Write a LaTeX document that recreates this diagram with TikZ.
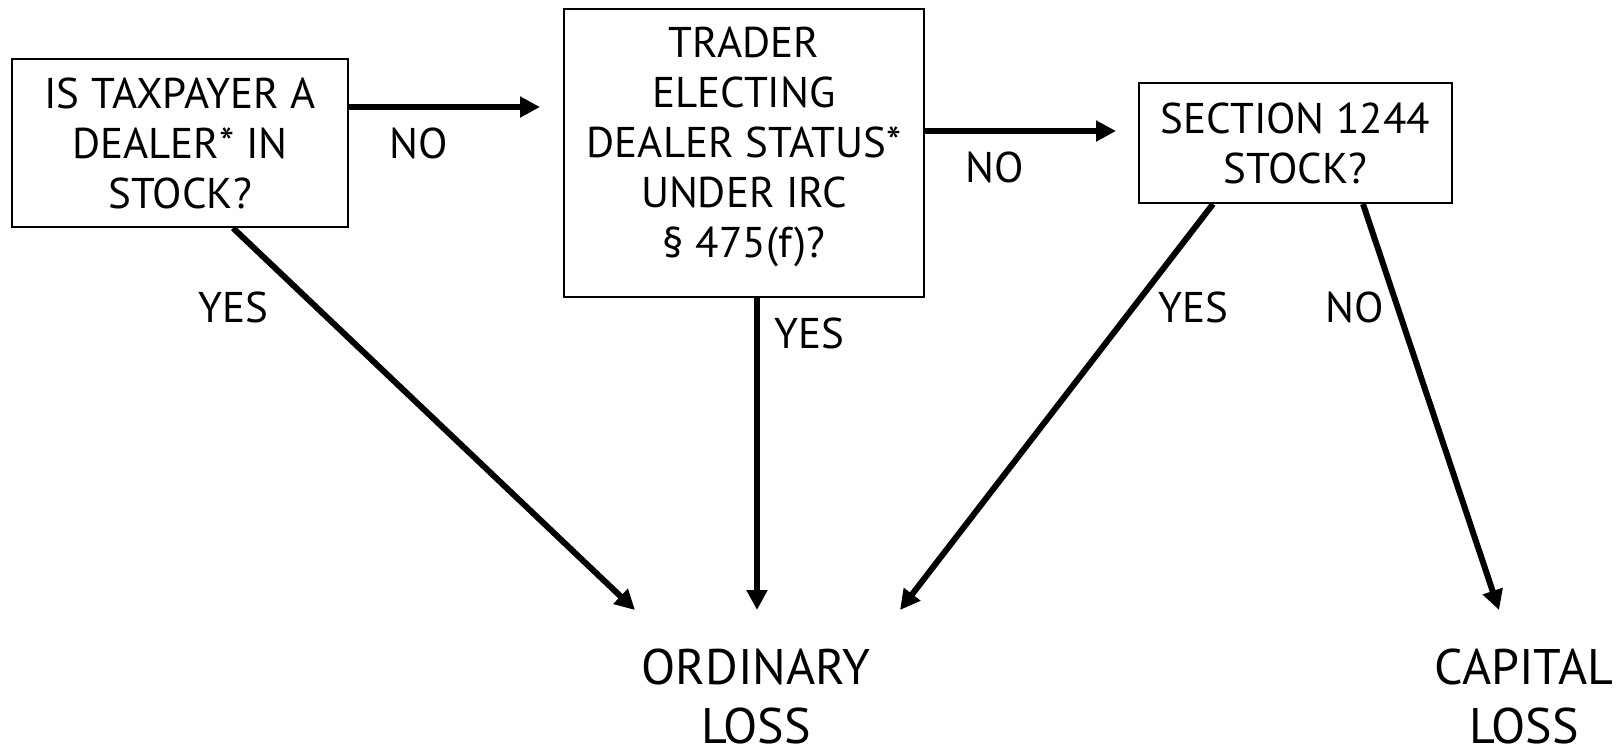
\documentclass[tikz,border=0pt]{standalone}
\usepackage{fontspec}
\setmainfont{PT Sans}
\usetikzlibrary{arrows.meta}
\tikzset{
  qbox/.style={draw=black, line width=1pt, rectangle, inner sep=0pt, align=center,
    font=\fontsize{21.5}{25}\selectfont},
  lbl/.style={anchor=base, inner sep=0pt, font=\fontsize{21.5}{25}\selectfont},
  result/.style={inner sep=0pt, align=center, font=\fontsize{25}{29.5}\selectfont},
  flow/.style={line width=3pt, -{Triangle[length=10pt,width=10pt]}},
}
\begin{document}
\begin{tikzpicture}[x=0.5pt,y=-0.5pt]
\useasboundingbox (0,0) rectangle (1621,752);
\fill[white] (0,0) rectangle (1621,752);
% decision boxes
\node[qbox, minimum width=168pt, minimum height=84pt] (dealer) at (180,143)
  {IS TAXPAYER A\\DEALER* IN\\STOCK?};
\node[qbox, minimum width=180pt, minimum height=144pt] (trader) at (744,153)
  {TRADER\\ELECTING\\DEALER STATUS*\\UNDER IRC\\§ 475(f)?\rule[-11pt]{0pt}{11pt}};
\node[qbox, minimum width=156.5pt, minimum height=60pt] (sec) at (1295.5,143)
  {SECTION 1244\\STOCK?};
% results
\node[result] (ordinary) at (756,696) {ORDINARY\\LOSS};
\node[result] (capital) at (1524,696) {CAPITAL\\LOSS};
% arrow tips
\coordinate (t1) at (540,107);
\coordinate (t2) at (1116,131);
\coordinate (o1) at (635,610);
\coordinate (o2) at (757,610);
\coordinate (o3) at (900,610);
\coordinate (c1) at (1499,610);
% connectors
\draw[flow] ([yshift=18pt]dealer.east) -- (t1);
\draw[flow] ([yshift=11pt]trader.east) -- (t2);
\draw[flow] ([xshift=26.5pt]dealer.south) -- (o1);
\draw[flow] ([xshift=6.5pt]trader.south) -- (o2);
\draw[flow] ([xshift=-41.25pt]sec.south) -- (o3);
\draw[flow] ([xshift=33.75pt]sec.south) -- (c1);
% labels
\node[lbl] (no1) at (419,158) {NO};
\node[lbl] (no2) at (995,182) {NO};
\node[lbl] (yes1) at (233,322) {YES};
\node[lbl] (yes2) at (809,348) {YES};
\node[lbl] (yes3) at (1193,322) {YES};
\node[lbl] (no3) at (1355,322) {NO};
\end{tikzpicture}
\end{document}
